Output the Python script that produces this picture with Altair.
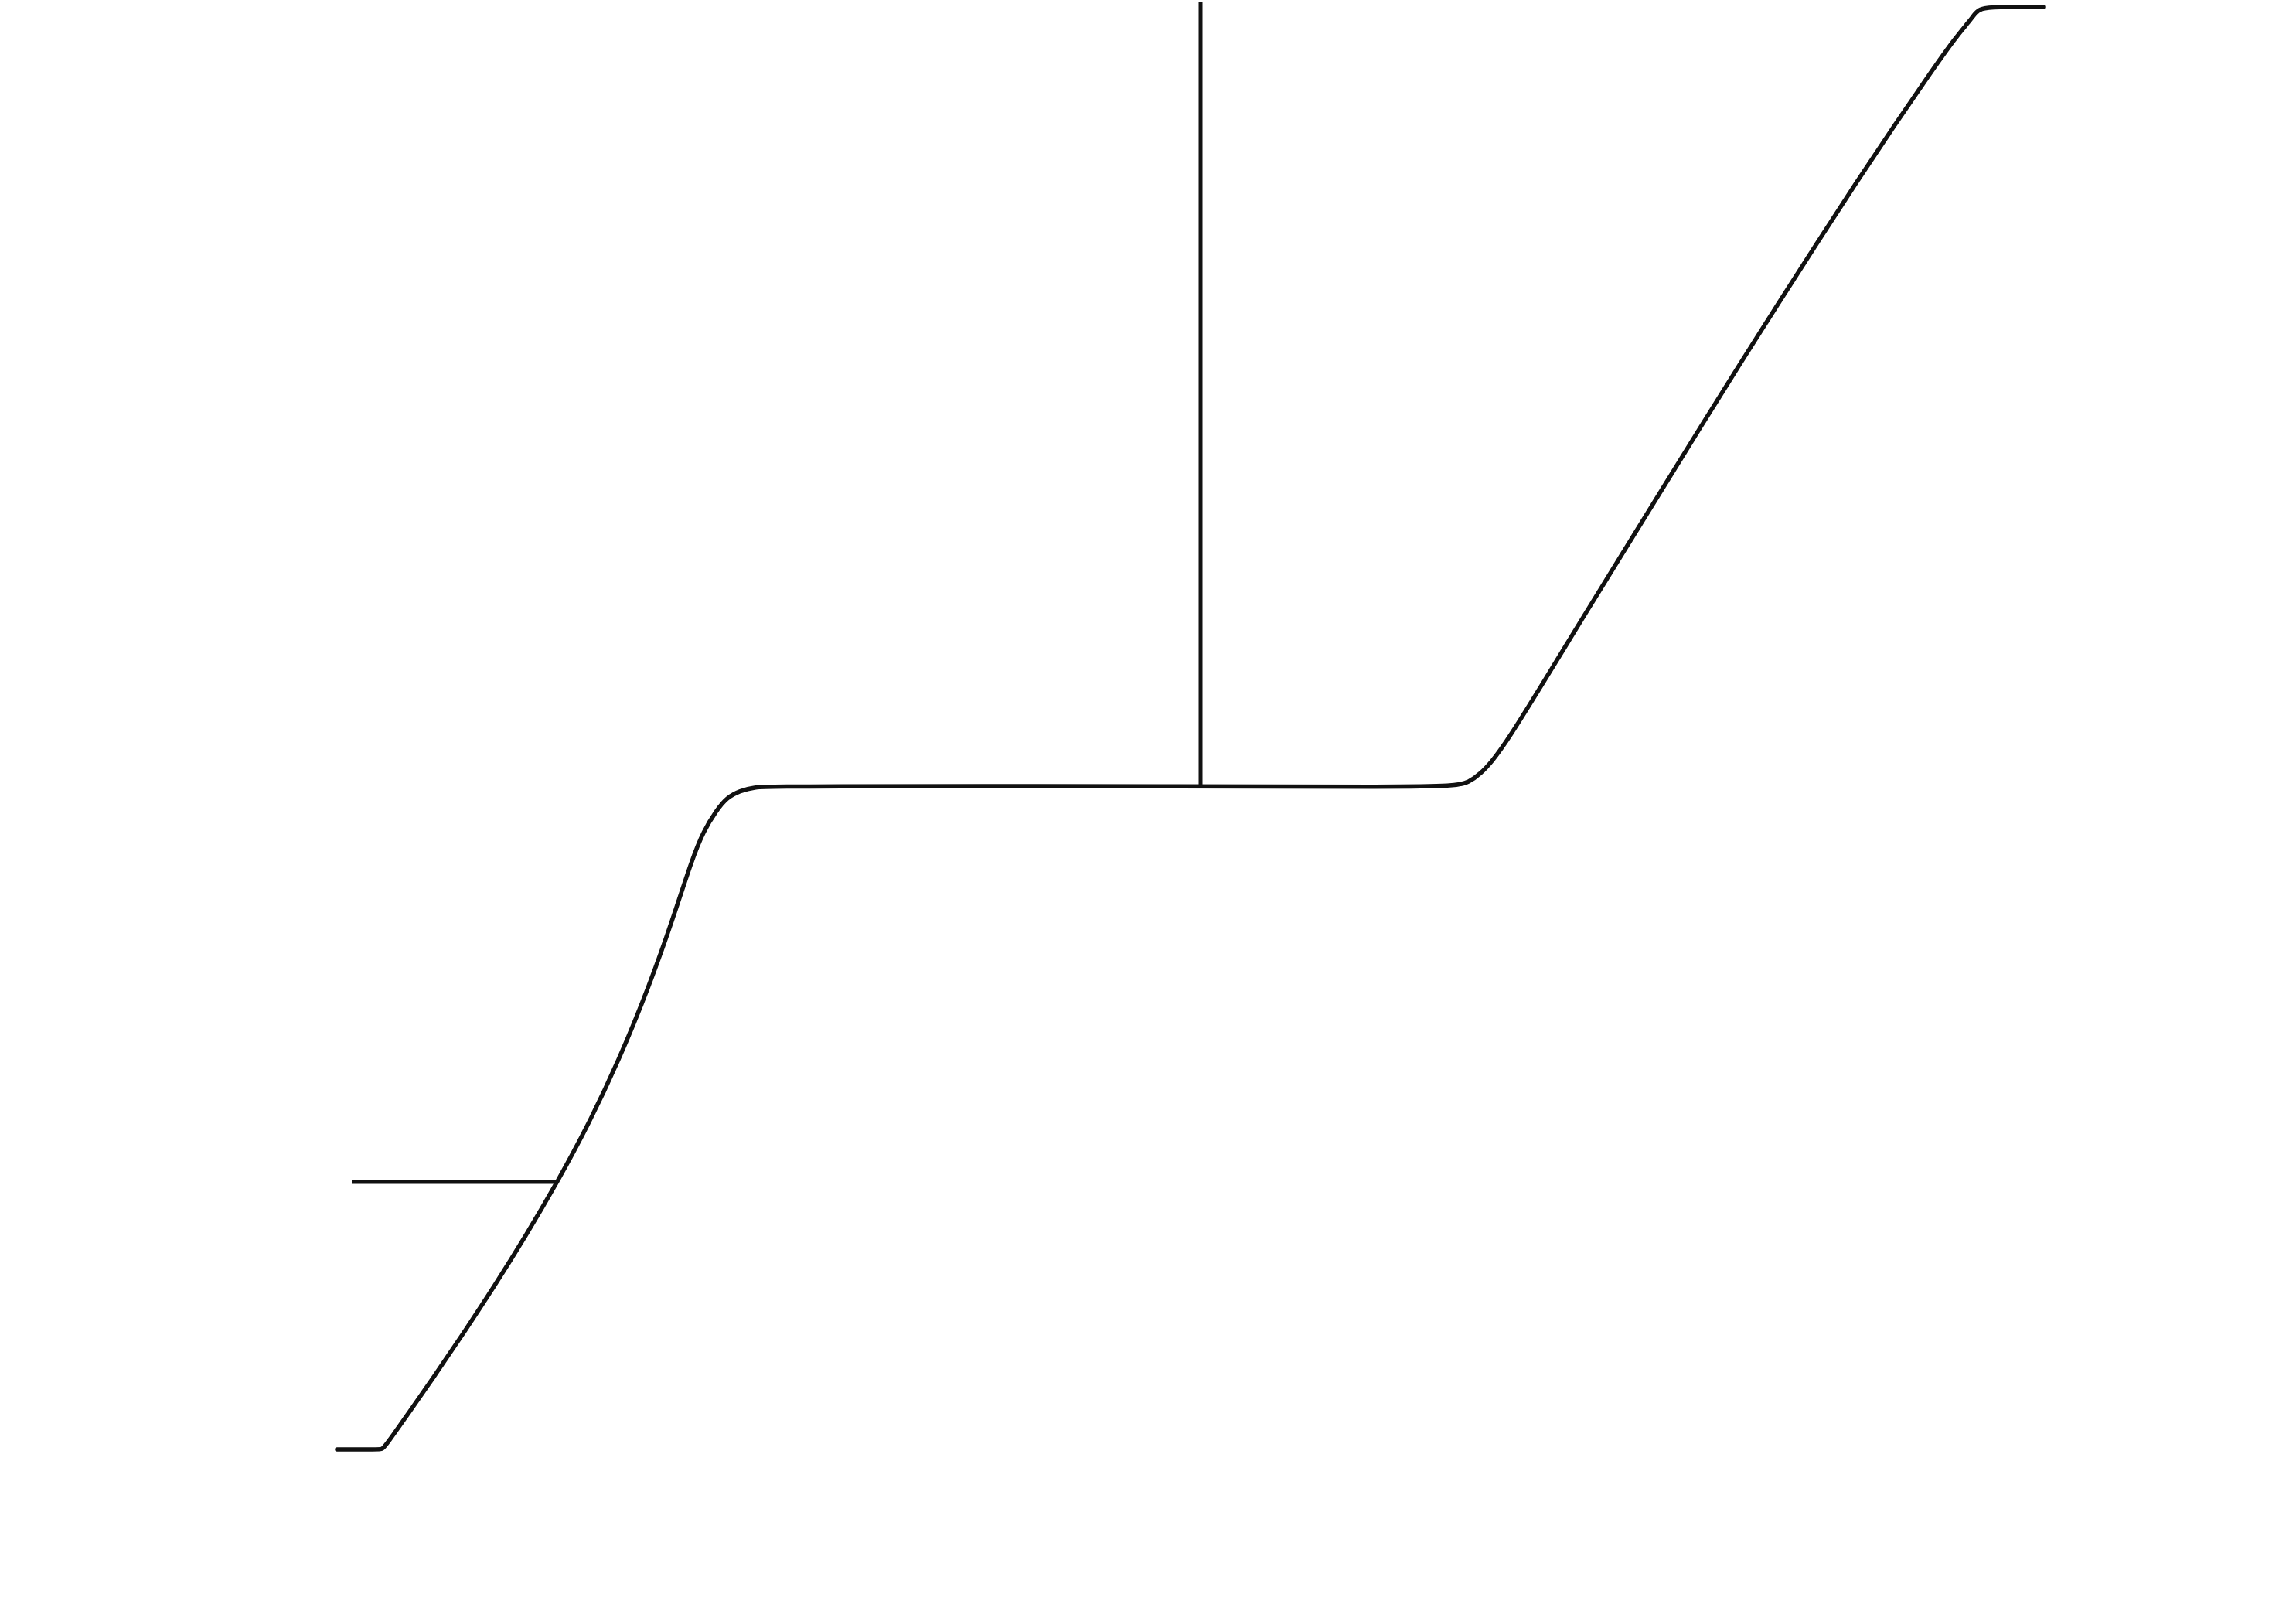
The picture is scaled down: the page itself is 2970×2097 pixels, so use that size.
import altair as alt
import pandas as pd

# Titration-like curve (arbitrary units)
volume = [0.00, 0.54, 0.58, 0.63, 0.94, 1.24, 1.64, 2.04, 2.44, 2.85, 3.24, 3.64, 4.04,
          4.34, 4.59, 4.74, 4.91, 5.04, 5.21, 5.41, 5.64, 11.17, 13.64, 14.47, 14.64,
          14.79, 14.94, 15.14, 15.64, 16.14, 16.64, 17.14, 17.64, 18.14, 18.64,
          19.14, 19.64, 20.14, 20.64, 20.94, 21.12, 21.19, 21.26, 21.44, 22.07, 22.07]
value = [0.00, 0.00, 0.00, 0.05, 0.49, 0.92, 1.51, 2.12, 2.76, 3.46, 4.18, 5.02, 6.00,
         6.85, 7.63, 8.00, 8.27, 8.43, 8.52, 8.57, 8.58, 8.58, 8.57, 8.58, 8.63,
         8.74, 8.90, 9.17, 9.98, 10.80, 11.61, 12.42, 13.23, 14.03, 14.82,
         15.60, 16.37, 17.12, 17.85, 18.27, 18.48, 18.58, 18.64, 18.66, 18.66, 18.66]
step = list(range(len(volume)))

# Vertical marker line (equivalence) and horizontal marker line
vline_x = [11.17]
vline_y = [8.58]
vline_y2 = [18.72]
hline_x = [0.19]
hline_x2 = [2.85]
hline_y = [3.46]

curve = pd.DataFrame({"volume": volume, "value": value, "step": step})
vdf = pd.DataFrame({"x": vline_x, "y": vline_y, "y2": vline_y2})
hdf = pd.DataFrame({"x": hline_x, "x2": hline_x2, "y": hline_y})

xs = alt.Scale(domain=[-4.36, 25.34], nice=False, zero=False)
ys = alt.Scale(domain=[-2.22, 18.75], nice=False, zero=False)

ink = "#111111"

line = alt.Chart(curve).mark_line(color=ink, strokeWidth=5.5, interpolate="basis",
                                  strokeCap="round", strokeJoin="round").encode(
    x=alt.X("volume:Q", scale=xs, axis=None),
    y=alt.Y("value:Q", scale=ys, axis=None),
    order="step:Q",
)

vrule = alt.Chart(vdf).mark_rule(color=ink, strokeWidth=5).encode(
    x=alt.X("x:Q", scale=xs, axis=None),
    y=alt.Y("y:Q", scale=ys, axis=None),
    y2="y2:Q",
)

hrule = alt.Chart(hdf).mark_rule(color=ink, strokeWidth=5).encode(
    x=alt.X("x:Q", scale=xs, axis=None),
    x2="x2:Q",
    y=alt.Y("y:Q", scale=ys, axis=None),
)

chart = alt.layer(line, vrule, hrule).properties(
    width=2970, height=2097, autosize=alt.AutoSizeParams(type="none"), padding=0,
    background="white",
).configure_view(stroke=None)

chart.save("out.html", embed_options={"renderer": "svg", "actions": False})
